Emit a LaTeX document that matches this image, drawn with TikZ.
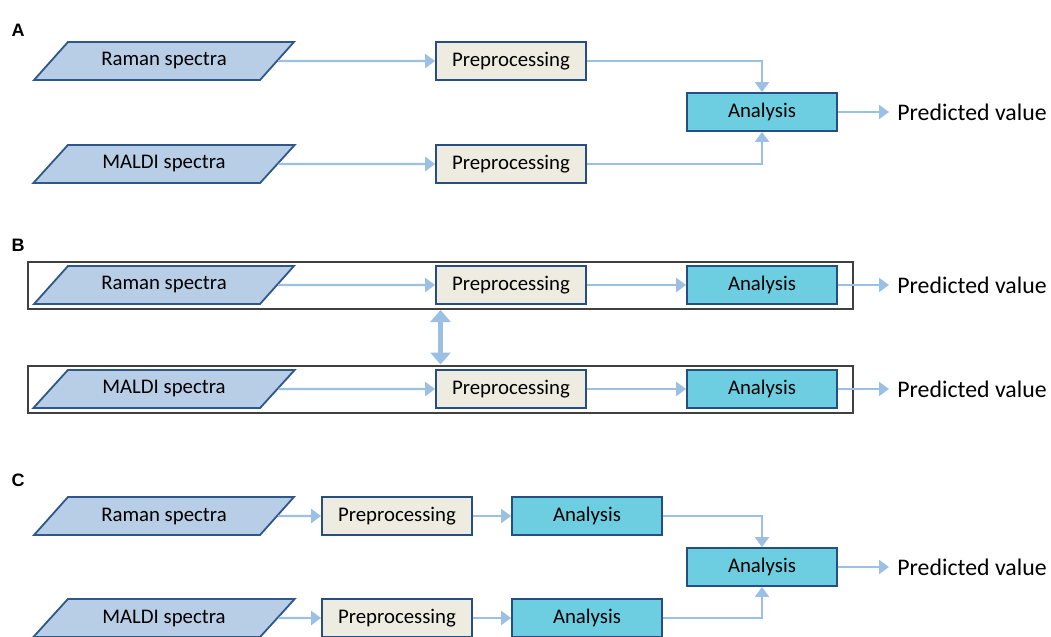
\documentclass[tikz,border=0pt]{standalone}
\usepackage{fontspec}
\setmainfont{Carlito}
\newfontfamily\panelfont{Liberation Sans}
\usetikzlibrary{shapes.geometric, arrows.meta}

\definecolor{specfill}{RGB}{184,205,230}
\definecolor{specdraw}{RGB}{46,88,140}
\definecolor{prepfill}{RGB}{238,236,225}
\definecolor{anafill}{RGB}{108,206,224}
\definecolor{boxdraw}{RGB}{38,78,128}
\definecolor{flow}{RGB}{155,192,228}
\definecolor{framedraw}{RGB}{64,64,64}

\begin{document}
\begin{tikzpicture}[x=0.5pt, y=-0.5pt]

	% ---------- Helper styles ----------
	\tikzset{
		spec/.style={trapezium, trapezium left angle=37, trapezium right angle=143,
			trapezium stretches=true, draw=specdraw, fill=specfill, line width=0.9pt,
			minimum width=131pt, minimum height=19pt, inner sep=0pt,
			font=\fontsize{10.4}{12}\selectfont},
		prep/.style={rectangle, draw=boxdraw, fill=prepfill, line width=0.9pt,
			minimum width=75pt, minimum height=19pt, inner sep=0pt,
			font=\fontsize{10.4}{12}\selectfont},
		ana/.style={prep, fill=anafill},
		frm/.style={rectangle, draw=framedraw, line width=1pt, minimum width=412.5pt, minimum height=23.5pt},
		pred/.style={anchor=west, inner xsep=4pt, font=\fontsize{11.9}{14}\selectfont},
		panel/.style={font=\panelfont\bfseries\fontsize{9}{11}\selectfont},
		flowline/.style={draw=flow, line width=1.2pt, -{Triangle[width=7pt, length=5pt]}},
		dbl/.style={draw=flow, line width=2.2pt, {Triangle[width=10pt, length=6pt]}-{Triangle[width=10pt, length=6pt]}}
	}

	\useasboundingbox (0,0) rectangle (1051,637);

	% ---------- Panel A: separate preprocessing, joint analysis ----------
	\node[panel] (labA) at (18,30) {A};
	\node[spec] (ramA) at (164,61) {Raman spectra};
	\node[spec] (malA) at (164,164) {MALDI spectra};
	\node[prep] (preA1) at (511,61) {Preprocessing};
	\node[prep] (preA2) at (511,164) {Preprocessing};
	\node[ana] (anaA) at (762,112) {Analysis};
	\node[pred] (predA) at (889,112) {Predicted value};

	\draw[flowline] (ramA.east) -- (preA1.west);
	\draw[flowline] (malA.east) -- (preA2.west);
	\draw[flowline] (preA1.east) -| (anaA.north);
	\draw[flowline] (preA2.east) -| (anaA.south);
	\draw[flowline] (anaA.east) -- (predA.west);

	% ---------- Panel B: two pipelines linked at preprocessing ----------
	\node[panel] (labB) at (18,245) {B};
	\node[frm] (frmB1) at (440.5,285.5) {};
	\node[frm] (frmB2) at (440.5,389) {};
	\foreach \r/\src/\y in {1/Raman/285, 2/MALDI/389} {
		\node[spec] (specB\r) at (164,\y) {\src\ spectra};
		\node[prep] (preB\r) at (511,\y) {Preprocessing};
		\node[ana] (anaB\r) at (762,\y) {Analysis};
		\node[pred] (predB\r) at (889,\y) {Predicted value};
		\draw[flowline] (specB\r.east) -- (preB\r.west);
		\draw[flowline] (preB\r.east) -- (anaB\r.west);
		\draw[flowline] (anaB\r.east) -- (predB\r.west);
	}
	\draw[dbl] (frmB1.south) -- (frmB2.north);

	% ---------- Panel C: separate analyses, combined at the end ----------
	\node[panel] (labC) at (18,480) {C};
	\node[ana] (anaC) at (762,567) {Analysis};
	\node[pred] (predC) at (889,567) {Predicted value};
	\foreach \r/\src/\y/\dir in {1/Raman/516/north, 2/MALDI/618/south} {
		\node[spec] (specC\r) at (164,\y) {\src\ spectra};
		\node[prep] (preC\r) at (397,\y) {Preprocessing};
		\node[ana] (anaC\r) at (587,\y) {Analysis};
		\draw[flowline] (specC\r.east) -- (preC\r.west);
		\draw[flowline] (preC\r.east) -- (anaC\r.west);
		\draw[flowline] (anaC\r.east) -| (anaC.\dir);
	}
	\draw[flowline] (anaC.east) -- (predC.west);

\end{tikzpicture}
\end{document}
